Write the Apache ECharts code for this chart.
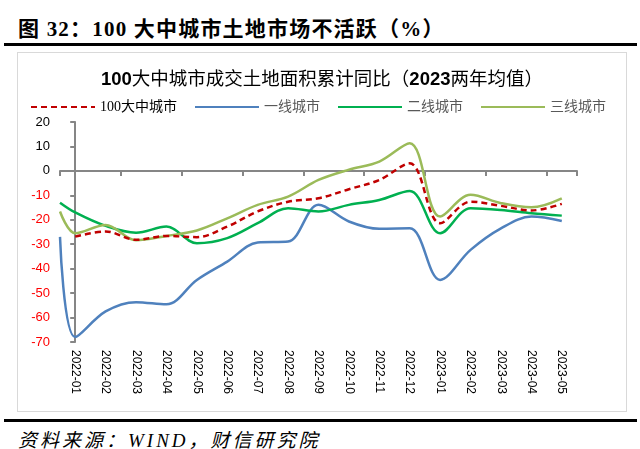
<!DOCTYPE html>
<html>
<head>
<meta charset="utf-8">
<script src="https://cdn.jsdelivr.net/npm/echarts@6/dist/echarts.min.js"></script>
<style>
  body{margin:0;width:640px;height:449px;background:#fff;position:relative;overflow:hidden;}
  #head{position:absolute;left:18px;top:12px;line-height:30px;font:bold 21px "Liberation Serif","Noto Sans CJK SC";letter-spacing:1.2px;color:#000;white-space:nowrap;}
  .rule{position:absolute;left:4px;width:633px;height:3px;background:#000;}
  #box{position:absolute;left:17px;top:52px;width:608px;height:358px;border:1px solid #d9d9d9;}
  #src{position:absolute;left:18px;top:425px;font:italic 19px "Liberation Serif","Noto Sans CJK SC";letter-spacing:3px;color:#000;white-space:nowrap;}
</style>
</head>
<body>
<div id="head">图 32：100 大中城市土地市场不活跃（%）</div>
<div class="rule" style="top:43px"></div>
<div id="box"></div>
<div class="rule" style="top:419px"></div>
<div id="src">资料来源：WIND，财信研究院</div>
<script>
var months = ['2022-01','2022-02','2022-03','2022-04','2022-05','2022-06','2022-07','2022-08','2022-09',
              '2022-10','2022-11','2022-12','2023-01','2023-02','2023-03','2023-04','2023-05'];
var names = ['100大中城市','一线城市','二线城市','三线城市'];
// 各月数值（%）
var city100 = [-26.9,-24.8,-28.2,-26.6,-27.1,-22.8,-16.6,-12.6,-11.2,-7.5,-3.7,3.1,-21.4,-12.6,-14.3,-16.2,-13.5];
var tier1   = [-68,-57.5,-53.7,-54.6,-44.6,-37.1,-29.3,-28.9,-13.9,-20.7,-23.7,-23.5,-44.6,-32.3,-23.5,-18.7,-20.5];
var tier2   = [-17,-22.5,-25.3,-22.8,-29.6,-27.5,-21.4,-15.3,-16.6,-13.9,-11.9,-8.2,-25.5,-15.3,-16,-17.3,-18.3];
var tier3   = [-25.5,-22.1,-28.4,-26.6,-24.4,-19.4,-13.9,-10.5,-3.7,0.5,3.8,11.3,-18.7,-9.8,-13.2,-14.9,-11.2];
// 曲线在纵轴处的起点值（一线/二线/三线）
var startVals = [null,-27,-13,-16.6];
var colors = ['#C00000','#4F81BD','#00B050','#9BBB59'];

function toPoints(arr, start){
  var pts = [];
  if (start != null) pts.push([-0.5, start]);
  arr.forEach(function(v, i){ pts.push([i, v]); });
  return pts;
}

var chart = echarts.init(document.getElementById('box'));
var allData = [city100, tier1, tier2, tier3];

var option = {
  animation:false,
  textStyle:{fontFamily:'"Liberation Sans","Noto Sans CJK SC"'},
  title:{
    text:'{b|100}大中城市成交土地面积累计同比（{b|2023}两年均值）',
    left:'center', top:13,
    textStyle:{
      fontSize:18.5,fontWeight:'normal',color:'#000',fontFamily:'"Liberation Sans","Noto Sans CJK SC"',
      rich:{b:{fontSize:18.5,fontWeight:'bold',color:'#000'}}
    }
  },
  legend:{
    top:47, left:12, width:596, padding:0,
    itemWidth:64, itemHeight:12, itemGap:17,
    itemStyle:{opacity:0},
    textStyle:{fontSize:14,color:'#595959',fontFamily:'"Liberation Serif","Noto Sans CJK SC"'},
    data:[
      {name:names[0],textStyle:{color:'#000'}},
      {name:names[1]},{name:names[2]},{name:names[3]}
    ]
  },
  grid:{left:42,right:49,top:69,bottom:69},
  xAxis:[
    { // 零线和刻度
      type:'category', data:months, boundaryGap:true,
      axisLine:{onZero:true,lineStyle:{color:'#868686',width:2}},
      axisTick:{show:true,length:5,lineStyle:{color:'#868686',width:2}},
      axisLabel:{show:false},
      splitLine:{show:false}
    },
    { // 底部标签
      type:'category', data:months, position:'bottom',
      axisLine:{show:false,onZero:false},
      axisTick:{show:false},
      axisLabel:{rotate:-90,margin:8,interval:0,fontSize:12,color:'#000'}
    },
    {type:'value',min:-0.5,max:16.5,show:false}
  ],
  yAxis:{
    type:'value', min:-70, max:20, interval:10,
    axisLine:{show:true,lineStyle:{color:'#868686',width:2}},
    axisTick:{show:true,length:5,lineStyle:{color:'#868686',width:2}},
    splitLine:{show:false},
    axisLabel:{
      margin:10,
      formatter:function(v){ return v < 0 ? '{n|' + v + '}' : '{p|' + v + '}'; },
      rich:{n:{color:'#FF0000',fontSize:13},p:{color:'#000',fontSize:13}}
    }
  },
  series: names.map(function(n, k){
    return {
      name:n, type:'line', xAxisIndex:2,
      data:toPoints(allData[k], startVals[k]),
      smooth:0.35, symbol:'none',
      z: k === 0 ? 5 : 3,
      itemStyle:{color:colors[k]},
      lineStyle:{color:colors[k],width:2.5,type: k === 0 ? [6,4] : 'solid'}
    };
  })
};
chart.setOption(option);
</script>
</body>
</html>
